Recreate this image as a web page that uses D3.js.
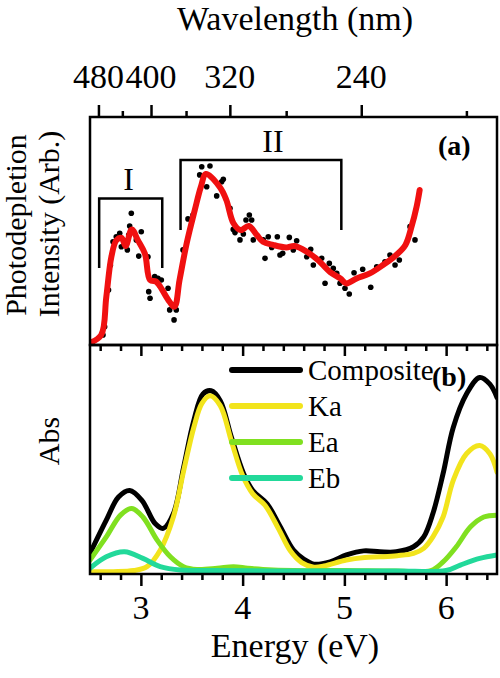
<!DOCTYPE html>
<html><head><meta charset="utf-8">
<script src="https://cdn.jsdelivr.net/npm/d3@7"></script>
<style>body{margin:0;background:#fff}svg{display:block}text{font-family:"Liberation Serif","Times New Roman",serif;fill:#000}</style>
</head><body><svg id="c" width="500" height="678"></svg>
<script>
// ---- data ----
const energyTicksMajor = [3, 4, 5, 6];
const energyTicksMinor = [2.6, 2.8, 3.2, 3.4, 3.6, 3.8, 4.2, 4.4, 4.6, 4.8, 5.2, 5.4, 5.6, 5.8, 6.2, 6.4];
const wavelengthMajor = [480, 400, 320, 240];
const wavelengthMinor = [440, 360, 280, 200];

// panel (a): photodepletion points and smoothed curve [energy eV, intensity]
const depletionPoints = [
 [2.52,0.01],[2.628,0.044],[2.644,0.08],[2.682,0.241],[2.70,0.35],[2.726,0.453],[2.758,0.475],[2.792,0.49],
 [2.808,0.431],[2.867,0.417],[2.88,0.482],[2.89,0.522],[2.906,0.578],[2.955,0.461],[3.004,0.497],[2.979,0.39],
 [3.07,0.387],[3.077,0.234],[3.09,0.205],[3.136,0.3],[3.168,0.293],[3.201,0.285],[3.267,0.249],[3.283,0.154],
 [3.326,0.11],[3.348,0.154],[3.414,0.417],[3.463,0.553],[3.512,0.57],[3.578,0.746],[3.598,0.782],[3.679,0.785],
 [3.647,0.694],[3.745,0.654],[3.794,0.716],[3.81,0.727],[3.876,0.6],[3.908,0.507],[3.925,0.493],[3.974,0.461],
 [4.007,0.487],[4.033,0.548],[4.066,0.57],[4.089,0.548],[4.105,0.461],[4.203,0.461],[4.22,0.38],[4.252,0.475],
 [4.286,0.428],[4.341,0.475],[4.367,0.395],[4.394,0.402],[4.459,0.472],[4.498,0.417],[4.531,0.457],[4.63,0.387],
 [4.669,0.42],[4.695,0.351],[4.777,0.38],[4.81,0.271],[4.852,0.358],[4.891,0.336],[4.925,0.314],[4.957,0.271],
 [5.006,0.249],[5.048,0.224],[5.095,0.317],[5.18,0.332],[5.259,0.253],[5.318,0.343],[5.399,0.365],[5.448,0.395],
 [5.498,0.351],[5.54,0.373],[5.645,0.519],[5.694,0.461]
];
const depletionFit = [
 [2.5,0.01],[2.61,0.044],[2.66,0.21],[2.71,0.387],[2.76,0.46],[2.81,0.47],[2.85,0.434],[2.91,0.507],[2.97,0.46],
 [3.04,0.40],[3.09,0.285],[3.15,0.278],[3.19,0.256],[3.27,0.197],[3.33,0.168],[3.38,0.285],[3.45,0.446],
 [3.53,0.592],[3.59,0.694],[3.64,0.75],[3.78,0.69],[3.84,0.636],[3.91,0.534],[3.98,0.504],[4.06,0.522],
 [4.14,0.482],[4.20,0.453],[4.30,0.439],[4.43,0.428],[4.51,0.434],[4.63,0.409],[4.74,0.373],[4.86,0.32],
 [4.96,0.292],[5.02,0.27],[5.12,0.292],[5.25,0.314],[5.38,0.351],[5.51,0.395],[5.60,0.439],[5.66,0.519],
 [5.71,0.607],[5.74,0.68]
];
// bracket annotations: [label, E start, E end, bottom, top]
const brackets = [["I", 2.59, 3.21, 0.338, 0.643], ["II", 3.39, 4.97, 0.504, 0.811]];

// panel (b): absorption curves [energy eV, abs]
const composite = [[2.5,0.09],[2.66,0.235],[2.78,0.336],[2.89,0.365],[3.01,0.322],[3.14,0.22],[3.22,0.199],[3.32,0.264],
 [3.42,0.466],[3.52,0.67],[3.61,0.786],[3.69,0.80],[3.78,0.757],[3.89,0.597],[4.01,0.438],[4.1,0.365],[4.24,0.307],
 [4.37,0.206],[4.5,0.104],[4.6,0.065],[4.7,0.043],[4.86,0.053],[5.02,0.083],[5.19,0.101],[5.35,0.097],[5.51,0.097],
 [5.68,0.119],[5.78,0.162],[5.87,0.264],[5.97,0.438],[6.07,0.64],[6.2,0.786],[6.33,0.858],[6.43,0.829],[6.5,0.771]];
const ka = [[2.5,0.01],[2.73,0.01],[2.93,0.015],[3.06,0.032],[3.19,0.104],[3.32,0.25],[3.42,0.45],[3.52,0.64],[3.6,0.745],
 [3.68,0.778],[3.78,0.735],[3.89,0.58],[4.0,0.43],[4.1,0.35],[4.22,0.3],[4.35,0.2],[4.47,0.1],[4.58,0.05],[4.7,0.03],
 [4.8,0.035],[5.02,0.061],[5.2,0.072],[5.35,0.075],[5.52,0.08],[5.68,0.09],[5.78,0.112],[5.87,0.162],[5.97,0.249],
 [6.07,0.409],[6.2,0.525],[6.33,0.561],[6.43,0.525],[6.5,0.445]];
const ea = [[2.5,0.061],[2.66,0.162],[2.8,0.257],[2.91,0.286],[3.02,0.249],[3.16,0.148],[3.29,0.075],[3.42,0.032],
 [3.55,0.02],[3.75,0.025],[3.91,0.032],[4.05,0.025],[4.2,0.02],[4.5,0.015],[5.0,0.015],[5.5,0.013],[5.85,0.015],
 [5.97,0.053],[6.1,0.119],[6.24,0.206],[6.37,0.249],[6.5,0.257]];
const eb = [[2.5,0.025],[2.66,0.075],[2.84,0.097],[3.02,0.068],[3.19,0.032],[3.39,0.017],[3.7,0.015],[4.5,0.013],
 [5.5,0.013],[6.0,0.015],[6.14,0.039],[6.33,0.068],[6.5,0.083]];
const seriesNames = ["Composite", "Ka", "Ea", "Eb"];
const seriesColors = ["#000000", "#f2e41c", "#80e020", "#22d99a"];

// ---- drawing ----
const svg = d3.select("#c");
const L = 90, R = 497, aTop = 117, aBot = 345, bTop = 345, bBot = 574;
const x = d3.scaleLinear().domain([2.5, 6.5]).range([L, R]);
const yA = d3.scaleLinear().domain([0, 1]).range([aBot, aTop]);
const yB = d3.scaleLinear().domain([0, 1]).range([bBot, bTop]);
const HC = 1239.84;
const FS = 34;

svg.append("defs").html(
 `<clipPath id="ca"><rect x="${L}" y="${aTop}" width="${R-L}" height="${aBot-aTop}"/></clipPath>
  <clipPath id="cb"><rect x="${L}" y="${bTop}" width="${R-L}" height="${bBot-bTop}"/></clipPath>`);

const line = (ys) => d3.line().x(d => x(d[0])).y(d => ys(d[1])).curve(d3.curveCatmullRom.alpha(0.5));

// panel a content
const ga = svg.append("g").attr("clip-path", "url(#ca)");
ga.selectAll("circle").data(depletionPoints).join("circle")
  .attr("cx", d => x(d[0])).attr("cy", d => yA(d[1])).attr("r", 2.8).attr("fill", "#000");
ga.append("path").datum(depletionFit).attr("d", line(yA))
  .attr("fill", "none").attr("stroke", "#f01010").attr("stroke-width", 6).attr("stroke-linejoin", "round").attr("stroke-linecap", "round");

brackets.forEach(b => {
  const [lab, e0, e1, lo, hi] = b;
  svg.append("path").attr("d", d3.line()([[x(e0), yA(lo)], [x(e0), yA(hi)], [x(e1), yA(hi)], [x(e1), yA(lo)]]))
    .attr("fill", "none").attr("stroke", "#000").attr("stroke-width", 2.5);
});
svg.append("text").attr("x", x((brackets[0][1]+brackets[0][2])/2) - 2).attr("y", yA(brackets[0][4]) - 8)
  .attr("text-anchor", "middle").attr("font-size", 32).text(brackets[0][0]);
svg.append("text").attr("x", 273).attr("y", yA(brackets[1][4]) - 8)
  .attr("text-anchor", "middle").attr("font-size", 32).text(brackets[1][0]);

svg.append("text").attr("x", 438).attr("y", 155).attr("font-size", 28).attr("font-weight", "bold").text("(a)");

// panel b content
const gb = svg.append("g").attr("clip-path", "url(#cb)");
const allSeries = [composite, ka, ea, eb];
allSeries.forEach((s, i) => {
  gb.append("path").datum(s).attr("d", line(yB)).attr("fill", "none")
    .attr("stroke", seriesColors[i]).attr("stroke-width", 5).attr("stroke-linecap", "round");
});

// legend
seriesNames.forEach((n, i) => {
  const yy = 370 + i * 36;
  svg.append("line").attr("x1", 232).attr("x2", 300).attr("y1", yy).attr("y2", yy)
    .attr("stroke", seriesColors[i]).attr("stroke-width", 6).attr("stroke-linecap", "round");
  svg.append("text").attr("x", 308).attr("y", yy + 10).attr("font-size", 29).text(n);
});
svg.append("text").attr("x", 432).attr("y", 386).attr("font-size", 28).attr("font-weight", "bold").text("(b)");

// frames
[[aTop, aBot], [bTop, bBot]].forEach(([t, b]) => {
  svg.append("rect").attr("x", L).attr("y", t).attr("width", R - L).attr("height", b - t)
    .attr("fill", "none").attr("stroke", "#000").attr("stroke-width", 2.5);
});

// axes
function tickAxis(g, axisFn, vals, len) {
  g.call(axisFn(x).tickValues(vals).tickSize(len).tickFormat(""));
  g.select(".domain").remove();
  g.selectAll("line").attr("stroke", "#000").attr("stroke-width", 2.5);
}
// between panels (ticks hanging down)
tickAxis(svg.append("g").attr("transform", `translate(0,${aBot})`), d3.axisBottom, energyTicksMinor, 6);
tickAxis(svg.append("g").attr("transform", `translate(0,${aBot})`), d3.axisBottom, energyTicksMajor, 11);
// bottom
tickAxis(svg.append("g").attr("transform", `translate(0,${bBot})`), d3.axisBottom, energyTicksMinor, 6);
tickAxis(svg.append("g").attr("transform", `translate(0,${bBot})`), d3.axisBottom, energyTicksMajor, 12);
svg.append("g").selectAll("text").data(energyTicksMajor).join("text")
  .attr("x", d => x(d)).attr("y", 619).attr("text-anchor", "middle").attr("font-size", FS).text(d => d);
// top (wavelength)
tickAxis(svg.append("g").attr("transform", `translate(0,${aTop})`), d3.axisTop, wavelengthMinor.map(w => HC / w), 6);
tickAxis(svg.append("g").attr("transform", `translate(0,${aTop})`), d3.axisTop, wavelengthMajor.map(w => HC / w), 12);
svg.append("g").selectAll("text").data(wavelengthMajor).join("text")
  .attr("x", w => x(HC / w)).attr("y", 88).attr("text-anchor", "middle")
  .attr("font-size", FS).text(w => w);

// titles
svg.append("text").attr("x", 295).attr("y", 30).attr("text-anchor", "middle").attr("font-size", FS).text("Wavelength (nm)");
svg.append("text").attr("x", 295).attr("y", 657).attr("text-anchor", "middle").attr("font-size", FS).text("Energy (eV)");
svg.append("text").attr("transform", "translate(26,225) rotate(-90)").attr("text-anchor", "middle").attr("font-size", 30).text("Photodepletion");
svg.append("text").attr("transform", "translate(59,224) rotate(-90)").attr("text-anchor", "middle").attr("font-size", 30).text("Intensity (Arb.)");
svg.append("text").attr("transform", "translate(59,441) rotate(-90)").attr("text-anchor", "middle").attr("font-size", 30).text("Abs");
</script></body></html>
